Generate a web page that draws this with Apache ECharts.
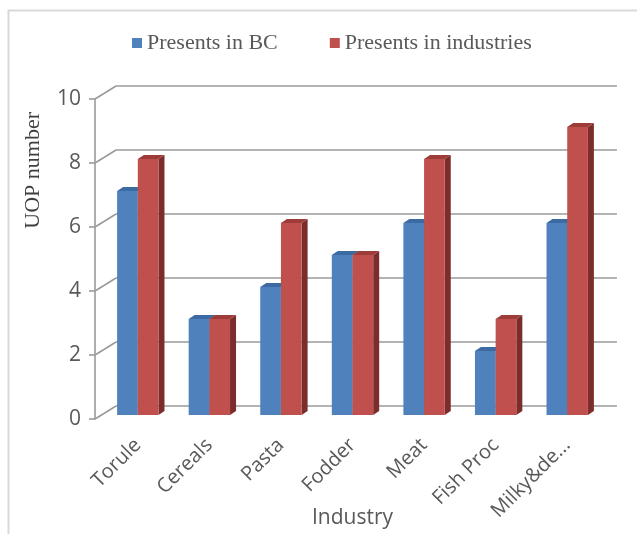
<!DOCTYPE html>
<html>
<head>
<meta charset="utf-8">
<script src="https://cdn.jsdelivr.net/npm/echarts@6/dist/echarts.min.js"></script>
<style>
  html, body { margin: 0; padding: 0; background: #fff; }
  #chart { width: 637px; height: 534px; }
</style>
</head>
<body>
<div id="chart"></div>
<script>
// Industries on the category axis
const categories = ['Torule', 'Cereals', 'Pasta', 'Fodder', 'Meat', 'Fish Proc', 'Milky&de...'];
// UOP counts per industry
const presentsInBC = [7, 3, 4, 5, 6, 2, 6];
const presentsInIndustries = [8, 3, 6, 5, 8, 3, 9];
// Value-axis ticks
const yTicks = [0, 2, 4, 6, 8, 10];

const AXIS_GRAY = '#9a9a9a';
const TEXT_GRAY = '#595959';
const SANS = '"Open Sans", "Liberation Sans", sans-serif';
const SERIF = '"Liberation Serif", "Times New Roman", serif';

// depth of each bar's 3D extrusion, px
const BAR_DX = 6, BAR_DY = 4;
// depth of the chart's floor/wall, px
const WALL_DX = 21, WALL_DY = 13;

const faces = {
  blue: { front: '#4F81BD', top: '#3c6aa3', side: '#2f5686' },
  red:  { front: '#C0504D', top: '#9d3c39', side: '#7b2d2b' }
};

function barRenderer(palette, left) {
  return function (params, api) {
    const cat = api.value(0);
    const v = api.value(1);
    const base = api.coord([cat, 0]);
    const top = api.coord([cat, v]);
    const band = api.size([1, 0])[0];
    const w = band * 0.289;
    const x0 = left ? base[0] - w : base[0];
    const x1 = x0 + w;
    const yb = base[1], yt = top[1];
    return {
      type: 'group',
      children: [
        { type: 'polygon', shape: { points: [[x1, yt], [x1 + BAR_DX, yt - BAR_DY], [x1 + BAR_DX, yb - BAR_DY], [x1, yb]] },
          style: { fill: palette.side } },
        { type: 'polygon', shape: { points: [[x0, yt], [x1, yt], [x1 + BAR_DX, yt - BAR_DY], [x0 + BAR_DX, yt - BAR_DY]] },
          style: { fill: palette.top } },
        { type: 'rect', shape: { x: x0, y: yt, width: w, height: yb - yt },
          style: { fill: palette.front } }
      ]
    };
  };
}

// left wall: diagonal lines from the front axis back to the wall at every tick
function wallRenderer(params, api) {
  const p = api.coord([0, api.value(1)]);
  return {
    type: 'line',
    shape: { x1: p[0], y1: p[1], x2: p[0] + WALL_DX, y2: p[1] - WALL_DY },
    style: { stroke: AXIS_GRAY, lineWidth: 1.6 }
  };
}

const chart = echarts.init(document.getElementById('chart'), null, { renderer: 'canvas' });

chart.setOption({
  backgroundColor: '#fff',
  animation: false,
  legend: {
    data: ['Presents in BC', 'Presents in industries'],
    left: 127,
    top: 27,
    itemWidth: 10,
    itemHeight: 10,
    itemGap: 52,
    icon: 'rect',
    textStyle: { fontFamily: SERIF, fontSize: 22, color: TEXT_GRAY }
  },
  graphic: [
    { type: 'rect', left: 6, top: 8, shape: { width: 640, height: 540 },
      style: { fill: 'none', stroke: '#d9d9d9', lineWidth: 2 } },
    { type: 'text', left: 22, top: 112, rotation: Math.PI / 2,
      style: { text: 'UOP number', font: '22px ' + SERIF, fill: '#404040' } }
  ],
  grid: [
    // back wall
    { left: 116, right: 20, top: 86, bottom: 128, outerBoundsMode: 'none' },
    // front value axis
    { left: 95, right: 41, top: 99, bottom: 115, outerBoundsMode: 'none' },
    // bars plane
    { left: 102, right: 34, top: 95, bottom: 119, outerBoundsMode: 'none' }
  ],
  xAxis: [
    { gridIndex: 0, type: 'value', min: 0, max: 1, show: false },
    { gridIndex: 1, type: 'value', min: 0, max: 1, show: false },
    { gridIndex: 2, type: 'category', data: categories,
      axisLine: { show: false }, axisTick: { show: false },
      axisLabel: { rotate: 45, margin: 27, fontFamily: SANS, fontSize: 20, color: TEXT_GRAY, interval: 0 },
      name: 'Industry', nameLocation: 'middle', nameGap: 93, nameMoveOverlap: false,
      nameTextStyle: { fontFamily: SANS, fontSize: 21, color: TEXT_GRAY } }
  ],
  yAxis: [
    { gridIndex: 0, type: 'value', min: 0, max: 10, interval: 2,
      axisLine: { show: false }, axisTick: { show: false }, axisLabel: { show: false },
      splitLine: { show: true, lineStyle: { color: AXIS_GRAY, width: 1.6 } } },
    { gridIndex: 1, type: 'value', min: 0, max: 10, interval: 2,
      axisLine: { show: true, lineStyle: { color: AXIS_GRAY, width: 1.6 } },
      axisTick: { show: true, length: 6, lineStyle: { color: AXIS_GRAY, width: 1.6 } },
      axisLabel: { margin: 14, fontFamily: SANS, fontSize: 21, color: TEXT_GRAY },
      splitLine: { show: false } },
    { gridIndex: 2, type: 'value', min: 0, max: 10, interval: 2, show: false, splitLine: { show: false } }
  ],
  series: [
    { type: 'custom', name: 'wall', xAxisIndex: 1, yAxisIndex: 1, silent: true,
      renderItem: wallRenderer, data: yTicks.map(v => [0, v]), z: 1 },
    { type: 'custom', name: 'Presents in BC', xAxisIndex: 2, yAxisIndex: 2,
      itemStyle: { color: faces.blue.front },
      renderItem: barRenderer(faces.blue, true),
      data: presentsInBC.map((v, i) => [i, v]), z: 3 },
    { type: 'custom', name: 'Presents in industries', xAxisIndex: 2, yAxisIndex: 2,
      itemStyle: { color: faces.red.front },
      renderItem: barRenderer(faces.red, false),
      data: presentsInIndustries.map((v, i) => [i, v]), z: 4 }
  ]
});
</script>
</body>
</html>
